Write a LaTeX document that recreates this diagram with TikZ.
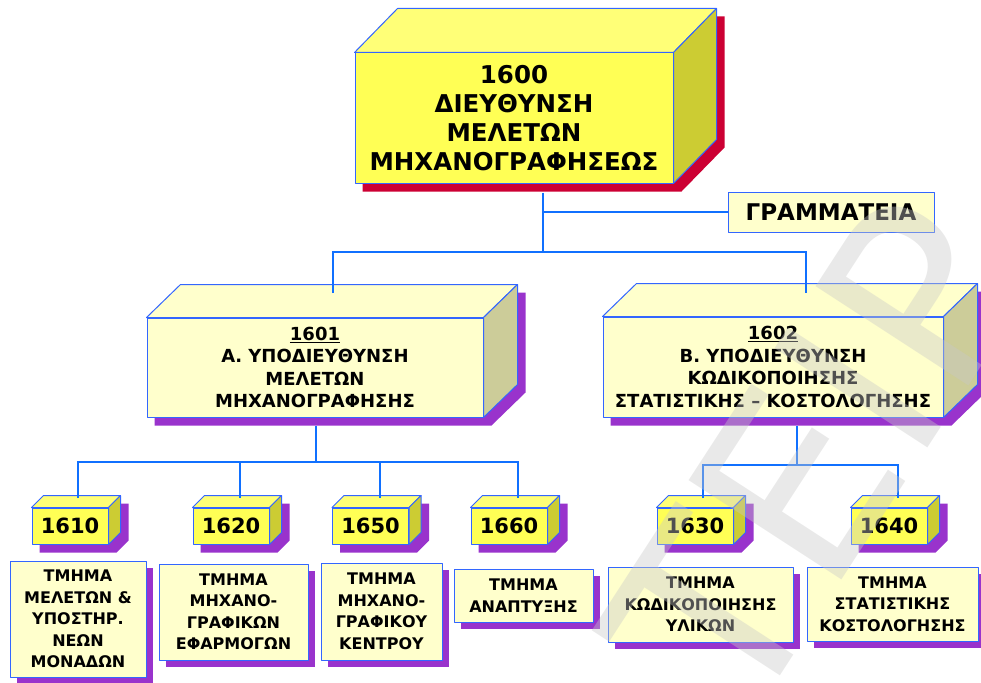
\documentclass[tikz,border=0pt]{standalone}
\usepackage{fontspec}
\setmainfont{DejaVu Sans}
\usetikzlibrary{calc,shadows}
\pgfdeclarelayer{background}
\pgfsetlayers{background,main}
\definecolor{edgeblue}{HTML}{3366FF}
\definecolor{lineblue}{HTML}{1070FF}
\definecolor{yfront}{HTML}{FFFF55}
\definecolor{ytop}{HTML}{FFFF77}
\definecolor{yside}{HTML}{CCCC33}
\definecolor{pfront}{HTML}{FFFFCC}
\definecolor{pside}{HTML}{CCCC99}
\definecolor{shpurple}{HTML}{9933CC}
\definecolor{shred}{HTML}{CC0033}
\definecolor{wmark}{HTML}{C8C8C8}
\newcommand\cubefaces[7]{%
  \begin{pgfonlayer}{background}
    \fill[#6] ($(#1.south west)+(#7,#7)$) -- ($(#1.south east)+(#7,#7)$)
      -- ($(#1.south east)+(#2+#7,-#3+#7)$) -- ($(#1.north east)+(#2+#7,-#3+#7)$)
      -- ($(#1.north west)+(#2+#7,-#3+#7)$) -- ($(#1.north west)+(#7,#7)$) -- cycle;
    \filldraw[face,fill=#4] (#1.north west) -- ($(#1.north west)+(#2,-#3)$)
      -- ($(#1.north east)+(#2,-#3)$) -- (#1.north east) -- cycle;
    \filldraw[face,fill=#5] (#1.north east) -- ($(#1.north east)+(#2,-#3)$)
      -- ($(#1.south east)+(#2,-#3)$) -- (#1.south east) -- cycle;
  \end{pgfonlayer}}
\tikzset{
  face/.style={draw=edgeblue,line width=1pt,line join=round},
  conn/.style={draw=lineblue,line width=1.6pt},
  front/.style={face,rectangle,inner sep=0pt,align=center,text=black},
  bigbox/.style={front,fill=yfront,font={\fontsize{24.5}{29}\selectfont\bfseries}},
  midbox/.style={front,fill=pfront,font={\fontsize{18}{22.5}\selectfont\bfseries}},
  numbox/.style={front,fill=yfront,minimum width=76pt,minimum height=36pt,font={\fontsize{21}{24}\selectfont\bfseries}},
  textbox/.style={front,fill=pfront,font={\fontsize{16}{21.5}\selectfont\bfseries},
    general shadow={fill=shpurple,shadow xshift=7pt,shadow yshift=-7pt}},
}
\begin{document}
\begin{tikzpicture}[x=1pt,y=-1pt]
\useasboundingbox (0,0) rectangle (981,682);

% top box
\node[bigbox,minimum width=318pt,minimum height=130pt] (n1600) at (514,118)
  {1600\\ΔΙΕΥΘΥΝΣΗ\\ΜΕΛΕΤΩΝ\\ΜΗΧΑΝΟΓΡΑΦΗΣΕΩΣ};
\cubefaces{n1600}{43}{44}{ytop}{yside}{shred}{8}

% secretary
\node[front,fill=pfront,minimum width=206pt,minimum height=40pt,
  font={\fontsize{23}{26}\selectfont\bfseries}] (sec) at (831,212) {ΓΡΑΜΜΑΤΕΙΑ};

% middle boxes
\node[midbox,minimum width=336pt,minimum height=99pt] (n1601) at (315,367.5)
  {\underline{1601}\\Α. ΥΠΟΔΙΕΥΘΥΝΣΗ\\ΜΕΛΕΤΩΝ\\ΜΗΧΑΝΟΓΡΑΦΗΣΗΣ};
\cubefaces{n1601}{34}{33}{pfront}{pside}{shpurple}{8}
\node[midbox,minimum width=340pt,minimum height=100pt] (n1602) at (773,367)
  {\underline{1602}\\Β. ΥΠΟΔΙΕΥΘΥΝΣΗ\\ΚΩΔΙΚΟΠΟΙΗΣΗΣ\\ΣΤΑΤΙΣΤΙΚΗΣ – ΚΟΣΤΟΛΟΓΗΣΗΣ};
\cubefaces{n1602}{34}{33}{pfront}{pside}{shpurple}{8}

% small number boxes
\foreach \nm/\cx in {1610/70,1620/231,1650/370.5,1660/509,1630/695,1640/889}{
  \node[numbox] (n\nm) at (\cx,526) {\nm};
  \cubefaces{n\nm}{12}{12}{ytop}{yside}{shpurple}{8}
}

% text boxes
\node[textbox,minimum width=136pt,minimum height=116pt] (b1610) at (78,619)
  {ΤΜΗΜΑ\\ΜΕΛΕΤΩΝ \&\\ΥΠΟΣΤΗΡ.\\ΝΕΩΝ\\ΜΟΝΑΔΩΝ};
\node[textbox,minimum width=149pt,minimum height=96pt] (b1620) at (233.5,612)
  {ΤΜΗΜΑ\\ΜΗΧΑΝΟ-\\ΓΡΑΦΙΚΩΝ\\ΕΦΑΡΜΟΓΩΝ};
\node[textbox,minimum width=121pt,minimum height=97pt] (b1650) at (381.5,611.5)
  {ΤΜΗΜΑ\\ΜΗΧΑΝΟ-\\ΓΡΑΦΙΚΟΥ\\ΚΕΝΤΡΟΥ};
\node[textbox,minimum width=139pt,minimum height=53pt] (b1660) at (523.5,595.5)
  {ΤΜΗΜΑ\\ΑΝΑΠΤΥΞΗΣ};
\node[textbox,minimum width=185pt,minimum height=75pt] (b1630) at (700.5,604.5)
  {ΤΜΗΜΑ\\ΚΩΔΙΚΟΠΟΙΗΣΗΣ\\ΥΛΙΚΩΝ};
\node[textbox,minimum width=171pt,minimum height=74pt] (b1640) at (892.5,604)
  {ΤΜΗΜΑ\\ΣΤΑΤΙΣΤΙΚΗΣ\\ΚΟΣΤΟΛΟΓΗΣΗΣ};

% connectors
\coordinate (j0) at (543,252);
\coordinate (s0) at (543,212);
\coordinate (t1) at (333,293);
\coordinate (t2) at (806,293);
\draw[conn] ([yshift=-9pt]n1600.south -| j0) -- (j0);
\draw[conn] (s0) -- (sec.west);
\draw[conn] (t1) -- (t1 |- j0) -- (t2 |- j0) -- (t2);

\coordinate (ja) at (316,462);
\draw[conn] ([yshift=-8pt]n1601.south -| ja) -- (ja);
\foreach \nm/\lx in {1610/78,1620/240,1650/380,1660/518}{
  \coordinate (d\nm) at (\lx,498);
}
\draw[conn] (d1610) -- (d1610 |- ja) -- (d1660 |- ja) -- (d1660);
\draw[conn] (d1620) -- (d1620 |- ja);
\draw[conn] (d1650) -- (d1650 |- ja);

\coordinate (jb) at (797,465);
\draw[conn] ([yshift=-8pt]n1602.south -| jb) -- (jb);
\coordinate (d1630) at (703,498);
\coordinate (d1640) at (898,498);
\draw[conn] (d1630) -- (d1630 |- jb) -- (d1640 |- jb) -- (d1640);

% watermark
\begin{scope}
\clip (0,0) rectangle (981,682);
\node[rotate=57,text=wmark,opacity=0.4,font={\fontsize{250}{250}\selectfont}] (wm) at (815,455) {ΤΕΙΡ};
\end{scope}
\end{tikzpicture}
\end{document}
